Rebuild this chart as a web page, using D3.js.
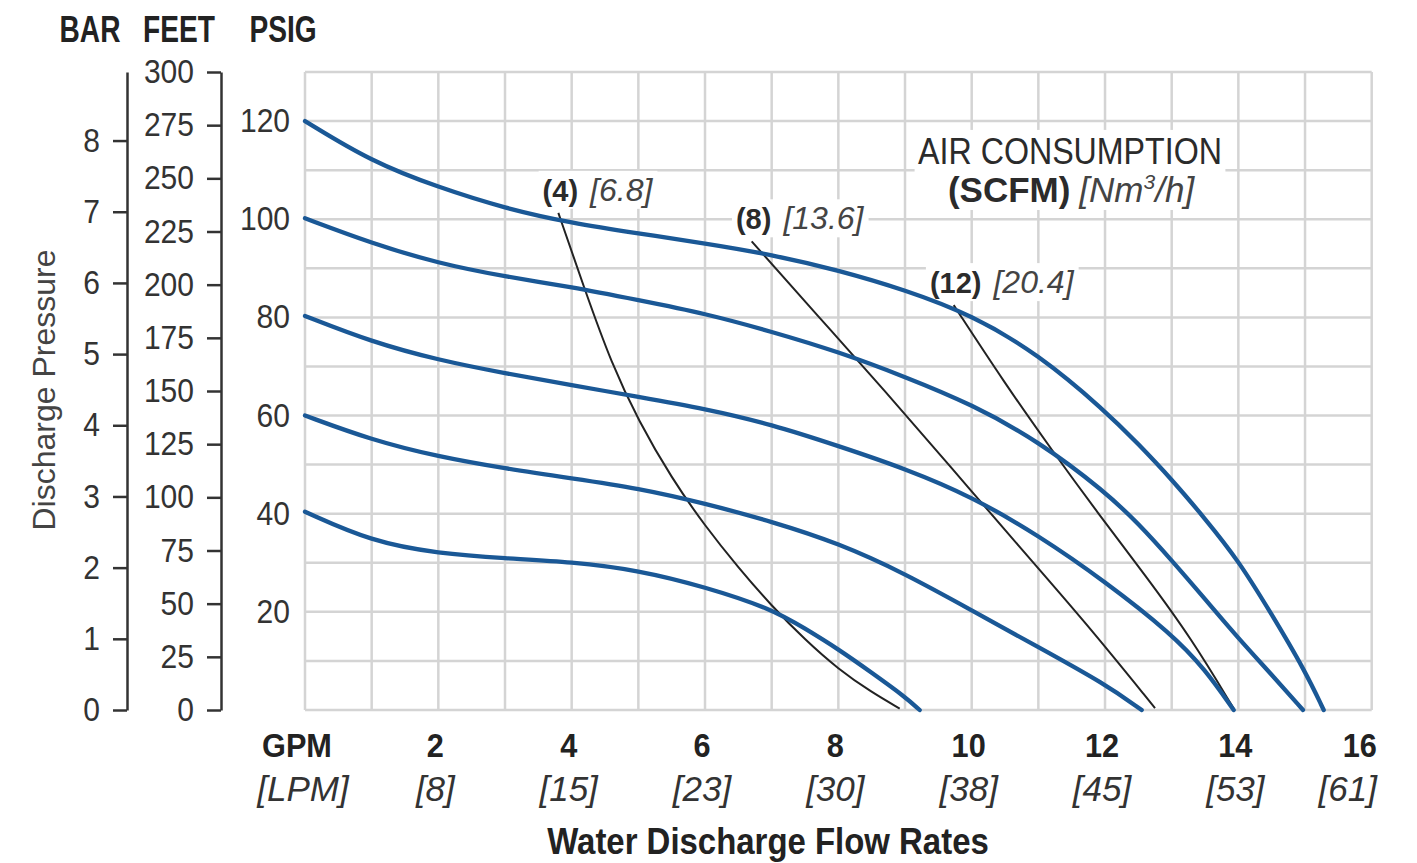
<!DOCTYPE html>
<html><head><meta charset="utf-8">
<script src="https://cdn.jsdelivr.net/npm/d3@7"></script>
<style>
html,body{margin:0;padding:0;background:#fff;}
svg{display:block;}
</style></head>
<body>
<svg id="chart" width="1417" height="863"></svg>
<script>
// ---------- DATA ----------
const gpmTicks = [2, 4, 6, 8, 10, 12, 14, 16];
const lpmLabels = ["[8]", "[15]", "[23]", "[30]", "[38]", "[45]", "[53]", "[61]"];
const psigTicks = [20, 40, 60, 80, 100, 120];
const feetTicks = [0, 25, 50, 75, 100, 125, 150, 175, 200, 225, 250, 275, 300];
const barTicks = [0, 1, 2, 3, 4, 5, 6, 7, 8];

// performance curves (GPM, PSIG) by inlet air pressure
const curve120 = [[0,120],[1,111.7],[2,106.5],[3,102.2],[4,99.2],[5,97.1],[6,95.1],[7,92.8],[8,89.6],[9,85.6],[10,80.5],[11,72.5],[12,61],[12.5,54.2],[13,47],[13.5,39],[14,30.5],[14.5,19.5],[15,8],[15.28,0]];
const curve100 = [[0,100.2],[1,95.1],[2,91],[3,88.3],[4,86.2],[5,83.5],[6,80.8],[7,77.1],[8,73],[9,67.9],[10,62.3],[11,54.8],[12,44.5],[12.5,38],[13,30.5],[13.5,22.6],[14,14.6],[14.5,7.2],[14.97,0]];
const curve80  = [[0,80.3],[1,75],[2,71.3],[3,68.6],[4,66.2],[5,63.8],[6,61.4],[7,58.2],[8,53.8],[9,49.2],[10,43.5],[11,35.6],[12,26.2],[13,15.5],[13.5,8.3],[13.93,0]];
const curve60  = [[0,60],[1,55],[2,51.6],[3,49.2],[4,47.2],[5,45.2],[6,42.1],[7,38.4],[8,34],[9,27.8],[10,20.3],[11,12.8],[12,5.3],[12.55,0]];
const curve40  = [[0,40.4],[1,34.3],[2,31.9],[3,30.9],[4,30.2],[5,28.5],[6,25.1],[7,20.6],[7.5,16.6],[8,12.4],[8.5,7.6],[9,2.7],[9.22,0]];
const pumpCurves = [curve120, curve100, curve80, curve60, curve40];

// air consumption lines (GPM, PSIG)
const air4  = [[3.8,101.3],[4.2,85.5],[4.6,70.5],[5,59],[5.5,47.2],[6,37.5],[6.5,29],[7,21.2],[7.5,14.3],[8,8.3],[8.5,3.6],[8.92,0.3]];
const air8  = [[6.7,95.5],[7.7,80.2],[8.7,65],[9.7,49.3],[10.7,33.5],[11.7,18],[12.75,0.4]];
const air12 = [[9.73,82.5],[10.5,66.5],[11.2,53],[11.9,40],[12.6,27.5],[13.3,14.5],[13.93,0.3]];
const airLines = [air4, air8, air12];
const airScfm = ["(4)", "(8)", "(12)"];
const airNm3  = ["[6.8]", "[13.6]", "[20.4]"];

// ---------- LAYOUT ----------
const FONT = "'Liberation Sans', Arial, Helvetica, sans-serif";
const svg = d3.select("#chart");
const x = d3.scaleLinear().domain([0, 16]).range([305, 1371.7]);
const y = d3.scaleLinear().domain([0, 130]).range([710, 72]);
const yFeet = d3.scaleLinear().domain([0, 130 * 2.3077]).range([710, 72]);
const yBar = d3.scaleLinear().domain([0, 130 / 14.5038]).range([710, 72]);

const gridColor = "#d4d4d4";
const textColor = "#2b2b2b";

function condense(sel, k) {
  sel.each(function () {
    const t = d3.select(this);
    const xv = +(t.attr("x") || 0);
    t.attr("x", xv / k).attr("transform", `scale(${k},1)`);
  });
}

// grid
const grid = svg.append("g");
grid.selectAll("line.v").data(d3.range(0, 17)).join("line")
  .attr("x1", d => x(d)).attr("x2", d => x(d)).attr("y1", y(130)).attr("y2", y(0))
  .attr("stroke", gridColor).attr("stroke-width", 2.5);
grid.selectAll("line.h").data(d3.range(0, 131, 10)).join("line")
  .attr("x1", x(0)).attr("x2", x(16)).attr("y1", d => y(d)).attr("y2", d => y(d))
  .attr("stroke", gridColor).attr("stroke-width", 2.5);

// text label helper with white background
const labels = svg.append("g");
function addLabel(xp, yp, parts, size, anchor, k) {
  k = k || 1;
  const g = labels.append("g").attr("transform", `translate(${xp},${yp}) scale(${k},1)`);
  const rect = g.append("rect").attr("fill", "#fff");
  const t = g.append("text").attr("x", 0).attr("y", 0)
    .attr("font-family", FONT).attr("font-size", size).attr("text-anchor", anchor || "start");
  parts.forEach(p => {
    const ts = t.append("tspan").text(p.t).attr("fill", p.c || textColor);
    if (p.b) ts.attr("font-weight", "bold");
    if (p.i) ts.attr("font-style", "italic");
    if (p.dx) ts.attr("dx", p.dx);
    if (p.size) ts.attr("font-size", p.size);
    if (p.sup) ts.attr("dy", -size * 0.38).attr("font-size", size * 0.6);
    if (p.unsup) ts.attr("dy", size * 0.38);
  });
  const bb = t.node().getBBox();
  rect.attr("x", bb.x - 4).attr("y", bb.y - 1).attr("width", bb.width + 8).attr("height", bb.height + 2);
  return {g, t};
}

// curves
const line = d3.line().x(d => x(d[0])).y(d => y(d[1])).curve(d3.curveBasis);
const plot = svg.append("g");

// air consumption labels (white background, behind lines)
airLines.forEach((a, i) => {
  const lab = addLabel(0, 0,
    [{t: airScfm[i], b: true}, {t: airNm3[i], i: true, c: "#444", dx: 12, size: 32}], 29);
  const w = lab.t.node().getSubStringLength(0, airScfm[i].length);
  lab.g.attr("transform", `translate(${x(a[0][0]) - w / 2 + 2},${y(a[0][1]) - 12})`);
});
addLabel(1070, 164, [{t: "AIR CONSUMPTION"}], 37, "middle", 0.87);
addLabel(1071, 202, [{t: "(SCFM)", b: true}, {t: "[Nm", i: true, c: "#444", dx: 9}, {t: "3", i: true, sup: true, c: "#444"}, {t: "/h]", i: true, unsup: true, c: "#444"}], 35, "middle");

plot.selectAll("path.air").data(airLines).join("path")
  .attr("d", line).attr("fill", "none").attr("stroke", "#222").attr("stroke-width", 2);
plot.selectAll("path.pump").data(pumpCurves).join("path")
  .attr("d", line).attr("fill", "none").attr("stroke", "#1a5896").attr("stroke-width", 4.3)
  .attr("stroke-linecap", "round");

// PSIG axis (labels only)
const psigAxis = svg.append("g").attr("transform", `translate(${x(0)},0)`)
  .call(d3.axisLeft(y).tickValues(psigTicks).tickSize(0).tickPadding(15));
psigAxis.select(".domain").remove();

// FEET axis
const feetAxis = svg.append("g").attr("transform", "translate(221,0)")
  .call(d3.axisLeft(yFeet).tickValues(feetTicks).tickSize(14).tickSizeOuter(0).tickPadding(13));
// BAR axis
const barAxis = svg.append("g").attr("transform", "translate(127,0)")
  .call(d3.axisLeft(yBar).tickValues(barTicks).tickSize(14).tickSizeOuter(0).tickPadding(13));

[psigAxis, feetAxis, barAxis].forEach(g => {
  g.selectAll("text").attr("font-family", FONT).attr("font-size", 33).attr("fill", "#333");
  condense(g.selectAll("text"), 0.91);
  g.selectAll("line").attr("stroke", "#333").attr("stroke-width", 2.5);
  g.selectAll(".domain").attr("stroke", "#333").attr("stroke-width", 2.5);
});

// headers
const headers = [["BAR", 90], ["FEET", 179], ["PSIG", 283]];
const hdr = svg.selectAll("text.hdr").data(headers).join("text")
  .attr("x", d => d[1]).attr("y", 42).attr("text-anchor", "middle")
  .attr("font-family", FONT).attr("font-size", 37).attr("font-weight", "bold").attr("fill", "#222")
  .text(d => d[0]);
condense(hdr, 0.76);

// y title
svg.append("text").attr("transform", "translate(55,390) rotate(-90)")
  .attr("text-anchor", "middle").attr("font-family", FONT).attr("font-size", 32).attr("fill", "#444")
  .text("Discharge Pressure");

// x axis labels
const xl = svg.append("g");
const gpmT = xl.append("text").attr("x", 297).attr("y", 757).attr("text-anchor", "middle")
  .attr("font-family", FONT).attr("font-size", 33).attr("font-weight", "bold").attr("fill", "#222").text("GPM");
xl.append("text").attr("x", 303).attr("y", 801).attr("text-anchor", "middle")
  .attr("font-family", FONT).attr("font-size", 35).attr("font-style", "italic").attr("fill", "#333").text("[LPM]");
const gNums = xl.selectAll("text.g").data(gpmTicks).join("text")
  .attr("x", (d, i) => x(d) - (i === gpmTicks.length - 1 ? 12 : 3)).attr("y", 757).attr("text-anchor", "middle")
  .attr("font-family", FONT).attr("font-size", 33).attr("font-weight", "bold").attr("fill", "#222").text(d => d);
condense(gNums, 0.93);
condense(gpmT, 0.93);
xl.selectAll("text.l").data(lpmLabels).join("text")
  .attr("x", (d, i) => x(gpmTicks[i]) - (i === gpmTicks.length - 1 ? 24 : 3)).attr("y", 801).attr("text-anchor", "middle")
  .attr("font-family", FONT).attr("font-size", 35).attr("font-style", "italic").attr("fill", "#333").text(d => d);
const ttl = xl.append("text").attr("x", 768).attr("y", 854).attr("text-anchor", "middle")
  .attr("font-family", FONT).attr("font-size", 37).attr("font-weight", "bold").attr("fill", "#222")
  .text("Water Discharge Flow Rates");
condense(ttl, 0.89);
</script>
</body></html>
